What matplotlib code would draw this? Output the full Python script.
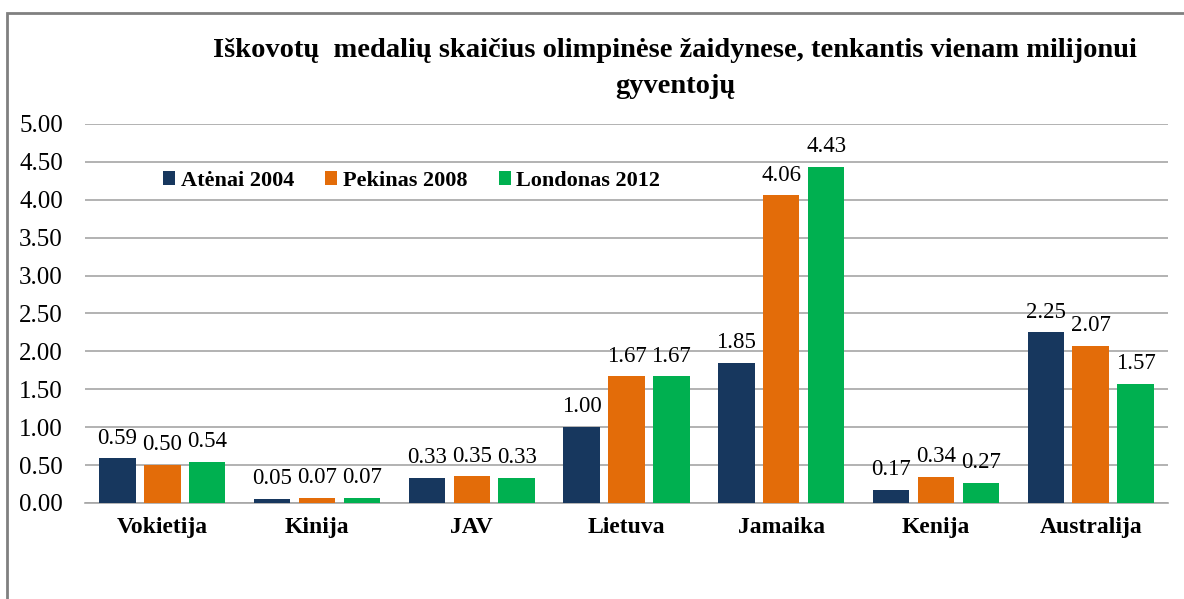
import matplotlib
matplotlib.use('Agg')
import matplotlib.pyplot as plt
import numpy as np
from matplotlib.patches import Rectangle

countries = ["Vokietija", "Kinija", "JAV", "Lietuva", "Jamaika", "Kenija", "Australija"]
series_names = ["Atėnai 2004", "Pekinas 2008", "Londonas 2012"]
athens_2004 = [0.59, 0.05, 0.33, 1.00, 1.85, 0.17, 2.25]
beijing_2008 = [0.50, 0.07, 0.35, 1.67, 4.06, 0.34, 2.07]
london_2012 = [0.54, 0.07, 0.33, 1.67, 4.43, 0.27, 1.57]
colors = ["#17375E", "#E36C09", "#00B050"]

plt.rcParams['font.family'] = ['Liberation Serif', 'DejaVu Serif']

fig = plt.figure(figsize=(11.84, 5.99), dpi=100)
ax = fig.add_axes([0.0718, 0.1603, 0.9147, 0.6327])

# outer chart border (cut off at right and bottom like the source)
fig.patches.append(Rectangle((7 / 1184, -0.1), 1.2, 1 - 13 / 599 + 0.1,
                             transform=fig.transFigure, fill=False,
                             edgecolor='#808080', linewidth=2))

x = np.arange(len(countries))
pitch = 0.29
width = 0.235
for i, (vals, name) in enumerate(zip([athens_2004, beijing_2008, london_2012], series_names)):
    bars = ax.bar(x + (i - 1) * pitch, vals, width, color=colors[i], label=name, zorder=3)
    for b, v in zip(bars, vals):
        ax.annotate(f"{v:.2f}", (b.get_x() + b.get_width() / 2, v),
                    xytext=(0, 7), textcoords='offset points',
                    ha='center', va='bottom', fontsize=16.5)

ax.set_xlim(-0.5, len(countries) - 0.5)
ax.set_ylim(0, 5)
ax.set_yticks(np.arange(0, 5.01, 0.5))
ax.set_yticklabels([f"{t:.2f}" for t in np.arange(0, 5.01, 0.5)], fontsize=18)
ax.set_xticks(x)
ax.set_xticklabels(countries, fontsize=17, fontweight='bold')
ax.tick_params(axis='both', length=0)
ax.tick_params(axis='x', pad=10)
ax.tick_params(axis='y', pad=16)
ax.grid(axis='y', color='#A6A6A6', linewidth=1.2, zorder=0)
for s in ['top', 'right', 'left']:
    ax.spines[s].set_visible(False)
ax.spines['bottom'].set_color('#A6A6A6')
ax.spines['bottom'].set_linewidth(1.2)

ax.legend(loc='center left', bbox_to_anchor=(0.072, 0.85), ncol=3, frameon=False,
          prop={'weight': 'bold', 'size': 16}, handlelength=0.55, handleheight=0.55,
          handletextpad=0.25, columnspacing=1.4, borderpad=0, borderaxespad=0)

fig.text(0.570, 0.886, "Iškovotų  medalių skaičius olimpinėse žaidynese, tenkantis vienam milijonui\ngyventojų",
         ha='center', va='center', fontsize=20.5, fontweight='bold', linespacing=1.6)

fig.savefig("out.png", dpi=100)
